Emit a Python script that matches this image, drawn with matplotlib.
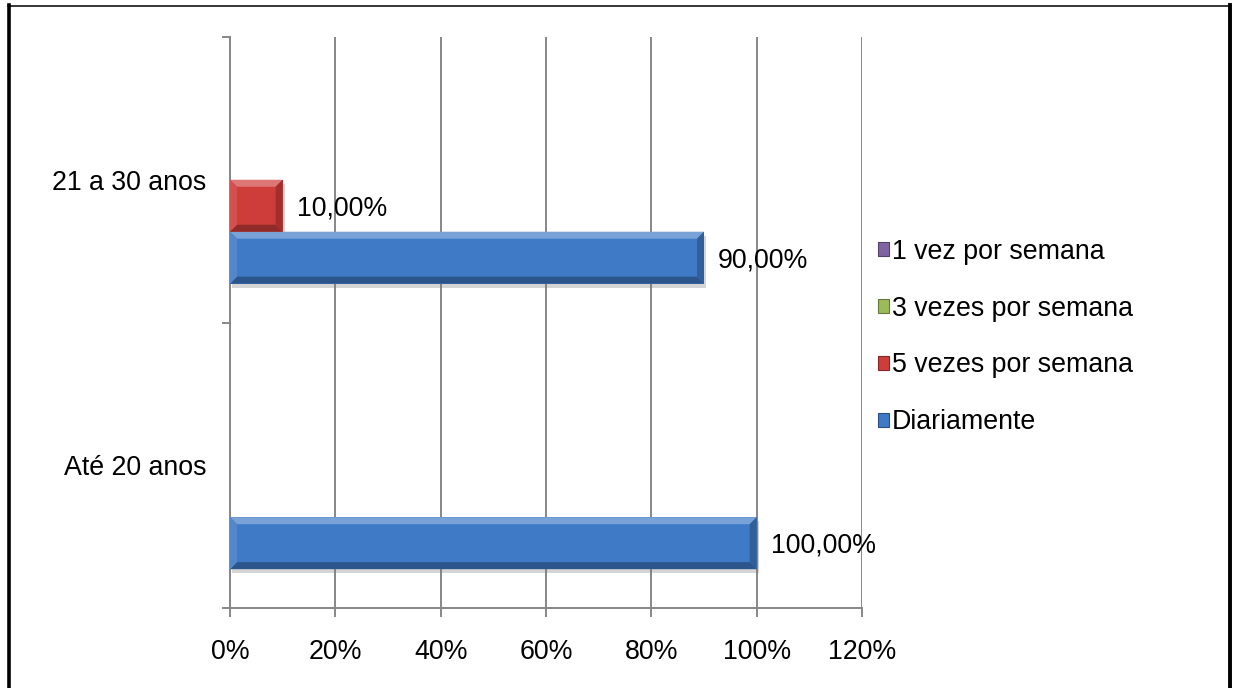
import matplotlib
matplotlib.use("Agg")
from matplotlib import pyplot as plt
from matplotlib import patheffects as pe
from matplotlib.patches import Polygon, Patch
from matplotlib.lines import Line2D
from matplotlib.colors import to_rgb
import numpy as np

plt.rcParams['font.family'] = ['Liberation Sans', 'DejaVu Sans']

categories = ["Até 20 anos", "21 a 30 anos"]
series = ["Diariamente", "5 vezes por semana", "3 vezes por semana", "1 vez por semana"]
diariamente = [100, 90]
cinco_vezes = [0, 10]
tres_vezes = [0, 0]
uma_vez = [0, 0]
x_ticks = [0, 20, 40, 60, 80, 100, 120]

values = [diariamente, cinco_vezes, tres_vezes, uma_vez]
colors = ["#3f7ac6", "#cf3d3a", "#9bbb59", "#8064a2"]
grid_gray = "#878787"
fs = 19.3


def shade(c, f):
    r = np.array(to_rgb(c))
    if f > 0:
        return tuple(r + (1 - r) * f)
    return tuple(r * (1 + f))


fig = plt.figure(figsize=(12.33, 6.88), dpi=100)
ax = fig.add_axes([230 / 1233, 80 / 688, 632 / 1233, 571 / 688])

ax.set_xlim(0, 120)
ax.set_ylim(-0.5, 1.5)

y = np.arange(len(categories))
h = 0.182
bars = []
for i, (vals, col) in enumerate(zip(values, colors)):
    b = ax.barh(y + (i - 1.5) * h, vals, height=h, color=col, zorder=3,
                linewidth=0)
    for p in b:
        p.set_path_effects([pe.SimplePatchShadow(offset=(1.5, -3), shadow_rgbFace="#777777", alpha=0.3),
                            pe.Normal()])
    bars.append(b)

# bevelled edges on each bar
bev_x = 7 * 120 / 632
bev_y = 7 * 2 / 571
for b, col in zip(bars, colors):
    for p in b:
        x0, y0, w, hh = p.get_x(), p.get_y(), p.get_width(), p.get_height()
        if w <= 0:
            continue
        x1, y1 = x0 + w, y0 + hh
        faces = [
            ([(x0, y1), (x1, y1), (x1 - bev_x, y1 - bev_y), (x0 + bev_x, y1 - bev_y)], 0.3),
            ([(x0, y0), (x1, y0), (x1 - bev_x, y0 + bev_y), (x0 + bev_x, y0 + bev_y)], -0.3),
            ([(x0, y0), (x0, y1), (x0 + bev_x, y1 - bev_y), (x0 + bev_x, y0 + bev_y)], 0.1),
            ([(x1, y0), (x1, y1), (x1 - bev_x, y1 - bev_y), (x1 - bev_x, y0 + bev_y)], -0.22),
        ]
        for pts, f in faces:
            ax.add_patch(Polygon(pts, closed=True, facecolor=shade(col, f),
                                 edgecolor="none", zorder=4))
        ax.annotate(f"{w:.2f}%".replace(".", ","), (x1, y0 + hh / 2),
                    xytext=(10, -2), textcoords="offset points",
                    ha="left", va="center", fontsize=fs, color="black", zorder=5)

# axes and grid
for s in ["top", "right"]:
    ax.spines[s].set_visible(False)
for s in ["left", "bottom"]:
    ax.spines[s].set_color(grid_gray)
    ax.spines[s].set_linewidth(1.4)
ax.set_xticks(x_ticks)
ax.set_xticklabels([f"{t}%" for t in x_ticks])
ax.xaxis.grid(True, color=grid_gray, linewidth=1.4, zorder=0)
ax.set_axisbelow(True)
ax.tick_params(axis="x", direction="out", length=6.5, width=1.4, color=grid_gray,
               labelsize=fs, pad=16)

ax.set_yticks([-0.5, 0.5, 1.5])
ax.set_yticklabels([])
ax.set_yticks(y, minor=True)
ax.set_yticklabels(categories, minor=True)
ax.tick_params(axis="y", which="major", direction="out", length=6, width=1.4, color=grid_gray)
ax.tick_params(axis="y", which="minor", length=0, labelsize=fs, pad=17)

# legend, top entry is the last series
handles = [Patch(facecolor=c, edgecolor=shade(c, -0.35), linewidth=0.8) for c in colors]
leg = fig.legend(handles[::-1], series[::-1], loc="center left",
                 bbox_to_anchor=(867 / 1233, 1 - 337 / 688), frameon=False,
                 fontsize=fs, handlelength=0.42, handleheight=0.42,
                 handletextpad=0.12, labelspacing=1.15, borderaxespad=0)

# page border
fig.add_artist(Line2D([9 / 1233, 9 / 1233], [0, 1 - 5 / 688], color="black", linewidth=2.6))
fig.add_artist(Line2D([1229.5 / 1233, 1229.5 / 1233], [0, 1 - 5 / 688], color="black", linewidth=2.8))
fig.add_artist(Line2D([8 / 1233, 1230 / 1233], [1 - 5.5 / 688, 1 - 5.5 / 688], color="black", linewidth=1.1))

fig.savefig("out.png", dpi=100)
